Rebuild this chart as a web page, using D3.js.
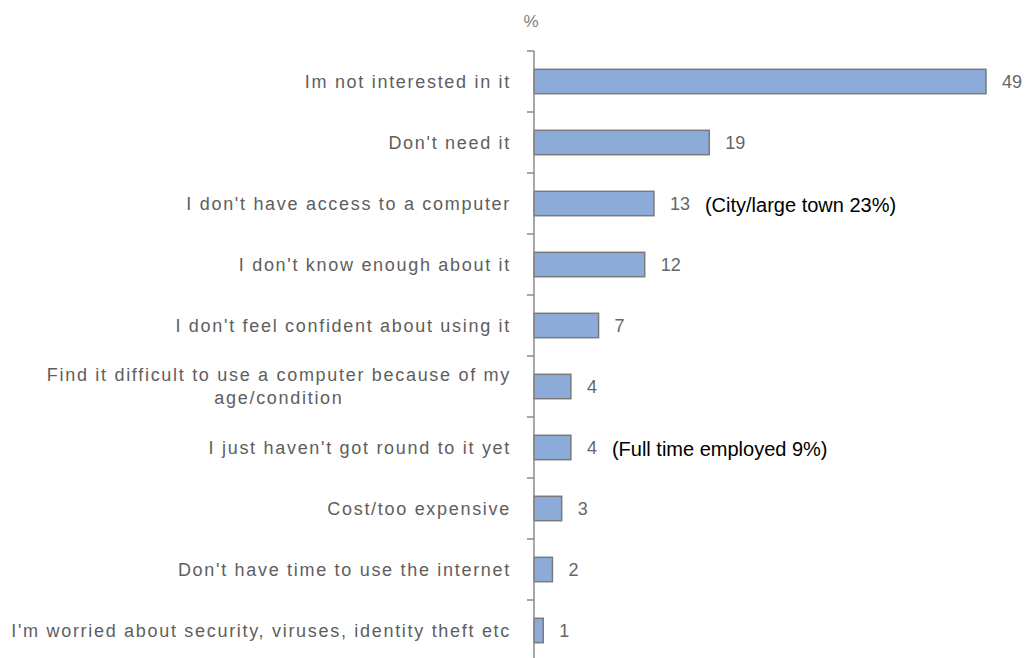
<!DOCTYPE html>
<html>
<head>
<meta charset="utf-8">
<script src="https://cdn.jsdelivr.net/npm/d3@7/dist/d3.min.js"></script>
<style>
  html, body { margin: 0; padding: 0; background: #fff; }
  svg { display: block; }
</style>
</head>
<body>
<svg id="chart" width="1027" height="658"></svg>
<script>
const categories = [
  "Im not interested in it",
  "Don't need it",
  "I don't have access to a computer",
  "I don't know enough about it",
  "I don't feel confident about using it",
  "Find it difficult to use a computer because of my\nage/condition",
  "I just haven't got round to it yet",
  "Cost/too expensive",
  "Don't have time to use the internet",
  "I'm worried about security, viruses, identity theft etc"
];
const values = [49, 19, 13, 12, 7, 4, 4, 3, 2, 1];
const notes = ["", "", "(City/large town 23%)", "", "", "", "(Full time employed 9%)", "", "", ""];
const unitLabel = "%";

(function () {
const svg = d3.select("#chart");
const axisX = 534;
const plotTop = 51, plotBottom = 661;

const x = d3.scaleLinear().domain([0, 49]).range([axisX, 986]);
const y = d3.scaleBand().domain(categories).range([plotTop, plotBottom]).paddingInner(0.6).paddingOuter(0.3);

const labelFont = "'Liberation Sans', Arial, sans-serif";
const labelColor = "#5e5e5e";

svg.append("text").attr("x", 531).attr("y", 27).attr("text-anchor", "middle")
  .attr("font-family", labelFont).attr("font-size", 17).attr("fill", "#808080")
  .text(unitLabel);

svg.selectAll("rect.bar").data(categories).join("rect")
  .attr("class", "bar")
  .attr("x", x(0))
  .attr("y", d => y(d))
  .attr("width", (d, i) => x(values[i]) - x(0))
  .attr("height", y.bandwidth())
  .attr("fill", "#8cabd8")
  .attr("stroke", "#7a7a7a")
  .attr("stroke-width", 1.5);

const g = svg.append("g");
g.append("line").attr("x1", axisX).attr("x2", axisX).attr("y1", plotTop).attr("y2", plotBottom)
  .attr("stroke", "#8a8a8a").attr("stroke-width", 1.5);
d3.range(categories.length + 1).forEach(i => {
  const yy = plotTop + i * y.step();
  g.append("line").attr("x1", axisX - 7).attr("x2", axisX).attr("y1", yy).attr("y2", yy)
    .attr("stroke", "#8a8a8a").attr("stroke-width", 1.5);
});

const labelRight = 511;
categories.forEach((c, i) => {
  const lines = c.split("\n");
  const cy = y(c) + y.bandwidth() / 2;
  const lh = 23;
  const t = svg.append("text")
    .attr("font-family", labelFont).attr("font-size", 18)
    .attr("letter-spacing", "1.7px")
    .attr("fill", labelColor)
    .attr("dominant-baseline", "central");
  if (lines.length === 1) {
    t.attr("x", labelRight).attr("y", cy).attr("text-anchor", "end").text(c);
  } else {
    lines.forEach((ln, k) => {
      t.append("tspan").attr("y", cy + (k - (lines.length - 1) / 2) * lh).text(ln);
    });
    const w = d3.max(t.selectAll("tspan").nodes(), n => n.getComputedTextLength());
    t.attr("text-anchor", "middle");
    t.selectAll("tspan").attr("x", labelRight - w / 2);
  }
});

const vals = svg.selectAll("text.val").data(categories).join("text")
  .attr("class", "val")
  .attr("x", (d, i) => x(values[i]) + 16)
  .attr("y", d => y(d) + y.bandwidth() / 2)
  .attr("dominant-baseline", "central")
  .attr("font-family", labelFont).attr("font-size", 18)
  .attr("fill", "#666")
  .text((d, i) => values[i]);

const valNodes = vals.nodes();
categories.forEach((c, i) => {
  if (!notes[i]) return;
  const vEnd = x(values[i]) + 16 + valNodes[i].getComputedTextLength();
  svg.append("text")
    .attr("x", vEnd + 15)
    .attr("y", y(c) + y.bandwidth() / 2 + 1)
    .attr("dominant-baseline", "central")
    .attr("font-family", "'Liberation Sans', Arial, sans-serif").attr("font-size", 20)
    .attr("fill", "#000")
    .text(notes[i]);
});
})();
</script>
</body>
</html>
